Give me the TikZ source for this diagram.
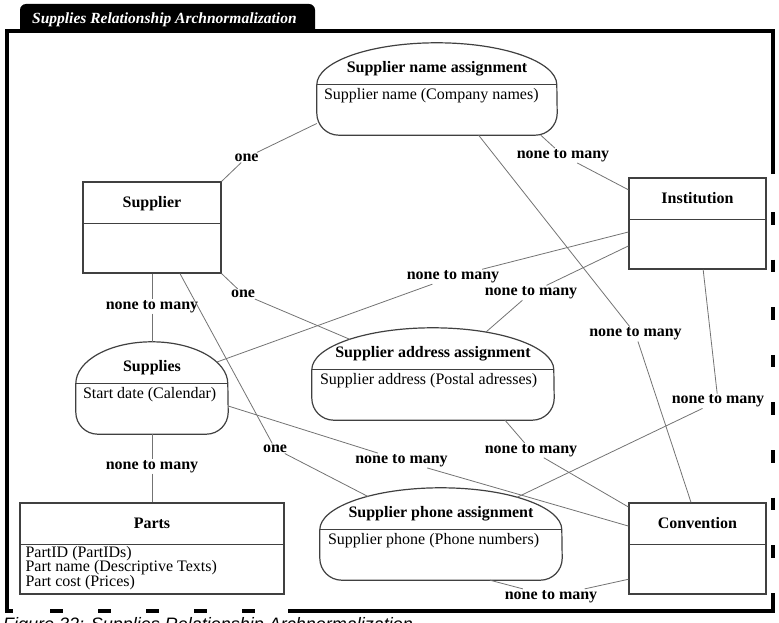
\documentclass[tikz,border=0pt]{standalone}
\usepackage{fontspec}
\setmainfont{Liberation Serif}
\setsansfont{Liberation Sans}
\tikzset{
  box/.style={draw=black!75, line width=1.2pt, minimum height=91pt, inner sep=0pt},
  dome/.style={minimum height=92pt, inner sep=0pt},
  heading/.style={font=\fontsize{16}{18}\selectfont\bfseries, inner sep=0pt, anchor=base},
  attr/.style={font=\fontsize{16}{18}\selectfont, inner sep=0pt, anchor=base west},
  card/.style={font=\fontsize{16}{18}\selectfont\bfseries, inner sep=1pt},
  link/.style={draw=black!55, line width=0.8pt},
  outline/.style={draw=black!75, line width=1.2pt},
  frame/.style={line width=4pt}
}
% outline of an assignment: dome on top, rounded corners below
\newcommand\domeshape[2]{%
  \draw[outline] ([yshift=-42]#1.north west) arc[start angle=180, end angle=0, x radius=#2pt, y radius=42pt]
    -- ([yshift=22]#1.south east) arc[start angle=0, end angle=-90, radius=22pt]
    -- ([xshift=22]#1.south west) arc[start angle=270, end angle=180, radius=22pt] -- cycle;
  \draw[outline] ([yshift=-42]#1.north west) -- ([yshift=-42]#1.north east);
}
\newcommand\splitline[1]{%
  \draw[outline] ([yshift=-42]#1.north west) -- ([yshift=-42]#1.north east);
}
\begin{document}
\begin{tikzpicture}[x=1pt, y=1pt]
\useasboundingbox (0,0) rectangle (779,-623);
% frame and tab
\fill (20,-31) [rounded corners=6pt] -- (20,-4) -- (315,-4) [sharp corners] -- (315,-31) -- cycle;
\node[anchor=base west, inner sep=0pt, text=white, font=\fontsize{15.5}{18}\selectfont\bfseries\itshape] (tab) at (32,-24) {Supplies Relationship Archnormalization};
\draw[frame] (773,-174) -- (773,-31) -- (7,-31) -- (7,-611) -- (13,-611);
\draw[frame, dash pattern=on 12.5pt off 35.1pt] (773,-212) -- (773,-558);
\draw[frame, dash pattern=on 13pt off 35pt] (50,-611) -- (255,-611);
\draw[frame] (773,-593) -- (773,-611) -- (288,-611);
\node[anchor=base west, inner sep=0pt, font=\fontsize{18}{20}\selectfont\sffamily\itshape] (caption) at (3,-630) {Figure 32: Supplies Relationship Archnormalization};

% entities
\node[box, minimum width=138pt] (Supplier) at (152,-227.5) {};
\node[box, minimum width=137pt] (Institution) at (697.5,-223.5) {};
\node[box, minimum width=137pt] (Convention) at (697.5,-548.5) {};
\node[box, minimum width=264pt] (Parts) at (152,-548.5) {};
\splitline{Supplier}
\splitline{Institution}
\splitline{Convention}
\splitline{Parts}
\node[heading] (SupplierT) at ([yshift=-26]Supplier.north) {Supplier};
\node[heading] (InstitutionT) at ([yshift=-26]Institution.north) {Institution};
\node[heading] (ConventionT) at ([yshift=-26]Convention.north) {Convention};
\node[heading] (PartsT) at ([yshift=-26]Parts.north) {Parts};
\node[attr] (PartsA1) at ([xshift=6, yshift=-55]Parts.north west) {PartID (PartIDs)};
\node[attr] (PartsA2) at ([xshift=6, yshift=-69.5]Parts.north west) {Part name (Descriptive Texts)};
\node[attr] (PartsA3) at ([xshift=6, yshift=-84]Parts.north west) {Part cost (Prices)};

% assignments
\node[dome, minimum width=240pt] (SupName) at (437,-89) {};
\node[dome, minimum width=152pt] (Supplies) at (152,-388) {};
\node[dome, minimum width=242pt] (SupAddr) at (433,-374) {};
\node[dome, minimum width=242pt] (SupPhone) at (441,-534) {};
\domeshape{SupName}{120}
\domeshape{Supplies}{76}
\domeshape{SupAddr}{121}
\domeshape{SupPhone}{121}
\node[heading] (SupNameT) at ([yshift=-29.5]SupName.north) {Supplier name assignment};
\node[heading] (SuppliesT) at ([yshift=-29.5]Supplies.north) {Supplies};
\node[heading] (SupAddrT) at ([yshift=-29.5]SupAddr.north) {Supplier address assignment};
\node[heading] (SupPhoneT) at ([yshift=-29.5]SupPhone.north) {Supplier phone assignment};
\node[attr] (SupNameA) at ([xshift=7, yshift=-57]SupName.north west) {Supplier name (Company names)};
\node[attr] (SuppliesA) at ([xshift=7, yshift=-57]Supplies.north west) {Start date (Calendar)};
\node[attr] (SupAddrA) at ([xshift=8, yshift=-57]SupAddr.north west) {Supplier address (Postal adresses)};
\node[attr] (SupPhoneA) at ([xshift=8, yshift=-57]SupPhone.north west) {Supplier phone (Phone numbers)};

% multiplicities
\node[card] (m1) at (246.5,-157.5) {one};
\node[card] (m2) at (563,-155.5) {none to many};
\node[card] (m3) at (635.5,-334) {none to many};
\node[card] (m4) at (453,-276.7) {none to many};
\node[card] (m5) at (531,-292.8) {none to many};
\node[card] (m6) at (718,-401) {none to many};
\node[card] (m7) at (531,-450.3) {none to many};
\node[card] (m8) at (401.5,-460.5) {none to many};
\node[card] (m9) at (551,-596.3) {none to many};
\node[card] (m10) at (275,-448.5) {one};
\node[card] (m11) at (243,-294) {one};
\node[card] (m12) at (152,-306.3) {none to many};
\node[card] (m13) at (152,-466.3) {none to many};

\draw[link] (SupName.196.8) -- (m1) -- (Supplier.north east);
\draw[link] (SupName.-24.5) -- (m2) -- (Institution.154.6);
\draw[link] (SupName.-48.3) -- (m3) -- (Convention.98.1);
\draw[link] (Institution.187.9) -- (m4) -- ([xshift=65, yshift=26]Supplies.center);
\draw[link] (Institution.198.9) -- (m5) -- ([xshift=53, yshift=42]SupAddr.center);
\draw[link] (Institution.-83.1) -- (m6) -- ([xshift=76, yshift=36.7]SupPhone.center);
\draw[link] ([xshift=72]SupAddr.south) -- (m7) -- (Convention.149.4);
\draw[link] ([yshift=-18]Supplies.east) -- (m8) -- (Convention.162.6);
\draw[link] ([xshift=49]SupPhone.south) -- (m9) -- (Convention.204);
\draw[link] ([xshift=28]Supplier.south) -- (m10) -- ([xshift=-73, yshift=37.5]SupPhone.center);
\draw[link] (Supplier.south east) -- (m11) -- ([xshift=-83, yshift=34.6]SupAddr.center);
\draw[link] (Supplier) -- (m12) -- (Supplies);
\draw[link] (Supplies) -- (m13) -- (Parts);
\end{tikzpicture}
\end{document}
